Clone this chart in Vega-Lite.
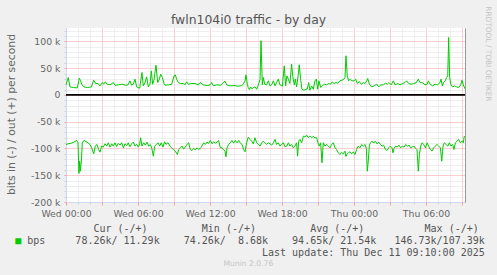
{
  "$schema": "https://vega.github.io/schema/vega-lite/v6.json",
  "width": 399,
  "height": 174,
  "autosize": "none",
  "padding": {"left": 66, "top": 28, "right": 32, "bottom": 73},
  "background": "#f0f0f0",
  "config": {
    "view": {"fill": "#ffffff", "stroke": null},
    "axis": {"labelFont": "DejaVu Sans", "titleFont": "DejaVu Sans", "titleFontWeight": "normal"}
  },
  "title": {"text": "Munin 2.0.76", "orient": "bottom", "anchor": "middle", "frame": "bounds", "font": "DejaVu Sans", "fontSize": 7.6, "fontWeight": "normal", "color": "#c4c4c4", "offset": 3},
  "datasets": {
    "out": [
      {"h":0,"v":18.8},{"h":0.19,"v":32.5},{"h":0.33,"v":15},{"h":0.61,"v":13.8},{"h":0.94,"v":13.1},{"h":1.11,"v":31.3},{"h":1.22,"v":26.3},{"h":1.33,"v":18.8},{"h":1.5,"v":15},{"h":1.78,"v":13.8},
      {"h":2.11,"v":15},{"h":2.31,"v":27.5},{"h":2.47,"v":21.3},{"h":2.67,"v":21.3},{"h":2.83,"v":16.9},{"h":3.03,"v":23.1},{"h":3.14,"v":20},{"h":3.28,"v":24.4},{"h":3.42,"v":20},{"h":3.67,"v":18.8},
      {"h":3.94,"v":23.1},{"h":4.08,"v":18.1},{"h":4.36,"v":18.8},{"h":4.67,"v":20},{"h":4.94,"v":18.1},{"h":5.17,"v":18.8},{"h":5.33,"v":26.3},{"h":5.47,"v":18.1},{"h":5.61,"v":20},{"h":5.75,"v":29.4},
      {"h":5.89,"v":15},{"h":6.14,"v":12.5},{"h":6.33,"v":41.9},{"h":6.44,"v":16.9},{"h":6.58,"v":23.1},{"h":6.72,"v":33.8},{"h":6.86,"v":15},{"h":7.0,"v":20},{"h":7.11,"v":45},{"h":7.22,"v":20},
      {"h":7.33,"v":27.5},{"h":7.5,"v":55.6},{"h":7.64,"v":23.1},{"h":7.78,"v":29.4},{"h":7.89,"v":38.8},{"h":8.03,"v":32.5},{"h":8.17,"v":21.3},{"h":8.25,"v":18.1},{"h":8.53,"v":18.8},{"h":8.81,"v":20},
      {"h":9.0,"v":35.6},{"h":9.11,"v":37.5},{"h":9.22,"v":29.4},{"h":9.36,"v":23.1},{"h":9.55,"v":21.3},{"h":9.78,"v":21.3},{"h":9.94,"v":19.4},{"h":10.05,"v":24.4},{"h":10.19,"v":20},{"h":10.47,"v":21.3},
      {"h":10.75,"v":21.3},{"h":11.03,"v":18.8},{"h":11.17,"v":23.1},{"h":11.44,"v":18.8},{"h":11.78,"v":17.5},{"h":12.0,"v":18.8},{"h":12.14,"v":23.1},{"h":12.28,"v":16.9},{"h":12.55,"v":18.8},{"h":12.89,"v":18.1},
      {"h":13.11,"v":23.1},{"h":13.25,"v":25.6},{"h":13.39,"v":18.8},{"h":13.67,"v":16.9},{"h":14.0,"v":17.5},{"h":14.36,"v":16.3},{"h":14.64,"v":17.5},{"h":14.78,"v":20},{"h":14.92,"v":26.3},{"h":15.0,"v":37.5},
      {"h":15.11,"v":20},{"h":15.19,"v":13.8},{"h":15.28,"v":10},{"h":15.39,"v":15},{"h":15.5,"v":11.3},{"h":15.61,"v":13.8},{"h":15.75,"v":15},{"h":15.89,"v":10.6},{"h":16.03,"v":18.8},{"h":16.17,"v":29.4},
      {"h":16.25,"v":101.3},{"h":16.36,"v":18.8},{"h":16.44,"v":32.5},{"h":16.56,"v":20},{"h":16.72,"v":18.8},{"h":16.86,"v":26.3},{"h":17.0,"v":16.9},{"h":17.14,"v":18.8},{"h":17.28,"v":26.3},{"h":17.42,"v":16.9},
      {"h":17.55,"v":23.1},{"h":17.69,"v":29.4},{"h":17.83,"v":18.8},{"h":18.03,"v":16.3},{"h":18.19,"v":54.4},{"h":18.3,"v":16.9},{"h":18.41,"v":35.6},{"h":18.53,"v":29.4},{"h":18.66,"v":21.3},{"h":18.8,"v":57.5},
      {"h":18.91,"v":32.5},{"h":19.03,"v":18.8},{"h":19.11,"v":29.4},{"h":19.22,"v":15},{"h":19.36,"v":38.8},{"h":19.44,"v":56.3},{"h":19.55,"v":29.4},{"h":19.66,"v":10.6},{"h":19.83,"v":8.8},{"h":20.0,"v":10.6},
      {"h":20.11,"v":11.3},{"h":20.22,"v":23.1},{"h":20.33,"v":8.8},{"h":20.47,"v":16.9},{"h":20.61,"v":10.6},{"h":20.75,"v":26.3},{"h":20.86,"v":29.4},{"h":20.97,"v":10.6},{"h":21.08,"v":26.3},{"h":21.22,"v":13.8},
      {"h":21.36,"v":16.9},{"h":21.53,"v":20},{"h":21.72,"v":18.8},{"h":21.89,"v":21.3},{"h":22.05,"v":20},{"h":22.19,"v":24.4},{"h":22.33,"v":21.3},{"h":22.5,"v":23.1},{"h":22.66,"v":21.9},{"h":22.83,"v":26.3},
      {"h":23.0,"v":27.5},{"h":23.16,"v":29.4},{"h":23.25,"v":32.5},{"h":23.33,"v":73.1},{"h":23.44,"v":35.6},{"h":23.55,"v":26.3},{"h":23.69,"v":29.4},{"h":23.83,"v":26.3},{"h":24.0,"v":26.3},{"h":24.14,"v":29.4},
      {"h":24.28,"v":21.3},{"h":24.44,"v":25},{"h":24.61,"v":20},{"h":24.78,"v":23.1},{"h":24.92,"v":21.3},{"h":25.06,"v":26.3},{"h":25.14,"v":30.6},{"h":25.28,"v":20},{"h":25.47,"v":15},{"h":25.67,"v":16.9},
      {"h":25.89,"v":20},{"h":26.06,"v":15},{"h":26.22,"v":18.8},{"h":26.45,"v":18.8},{"h":26.61,"v":21.9},{"h":26.78,"v":20},{"h":26.92,"v":23.1},{"h":27.09,"v":18.8},{"h":27.28,"v":26.3},{"h":27.42,"v":18.8},
      {"h":27.64,"v":21.3},{"h":27.84,"v":18.8},{"h":28.06,"v":21.3},{"h":28.25,"v":23.1},{"h":28.39,"v":26.3},{"h":28.56,"v":21.3},{"h":28.75,"v":20},{"h":28.95,"v":21.3},{"h":29.17,"v":22.5},{"h":29.36,"v":29.4},
      {"h":29.5,"v":23.1},{"h":29.72,"v":22.5},{"h":29.92,"v":18.8},{"h":30.09,"v":20},{"h":30.2,"v":26.3},{"h":30.34,"v":20},{"h":30.56,"v":16.9},{"h":30.75,"v":20},{"h":30.95,"v":18.8},{"h":31.17,"v":23.1},
      {"h":31.25,"v":29.4},{"h":31.36,"v":16.9},{"h":31.47,"v":23.1},{"h":31.61,"v":26.3},{"h":31.72,"v":32.5},{"h":31.81,"v":35.6},{"h":31.89,"v":107.4},{"h":31.97,"v":32.5},{"h":32.08,"v":18.8},{"h":32.22,"v":15},
      {"h":32.39,"v":16.9},{"h":32.55,"v":15},{"h":32.72,"v":13.8},{"h":32.89,"v":18.8},{"h":33.0,"v":27.5},{"h":33.11,"v":18.8},{"h":33.25,"v":11.3}
    ],
    "in": [
      {"h":0,"v":-92.5},{"h":0.19,"v":-91.3},{"h":0.47,"v":-90},{"h":0.67,"v":-88.1},{"h":0.89,"v":-85},{"h":1.0,"v":-89.4},{"h":1.08,"v":-146.7},{"h":1.14,"v":-123.8},{"h":1.19,"v":-142.5},{"h":1.28,"v":-123.8},
      {"h":1.36,"v":-89.4},{"h":1.5,"v":-85},{"h":1.67,"v":-87.5},{"h":1.83,"v":-89.4},{"h":2.0,"v":-92.5},{"h":2.14,"v":-98.8},{"h":2.31,"v":-110},{"h":2.44,"v":-95.6},{"h":2.58,"v":-92.5},{"h":2.72,"v":-101.9},
      {"h":2.83,"v":-106.9},{"h":2.97,"v":-95.6},{"h":3.11,"v":-97.5},{"h":3.25,"v":-91.3},{"h":3.39,"v":-95.6},{"h":3.53,"v":-89.4},{"h":3.67,"v":-97.5},{"h":3.81,"v":-91.3},{"h":3.94,"v":-95.6},{"h":4.08,"v":-89.4},
      {"h":4.22,"v":-96.3},{"h":4.36,"v":-90.6},{"h":4.5,"v":-93.8},{"h":4.64,"v":-89.4},{"h":4.78,"v":-98.8},{"h":4.92,"v":-91.3},{"h":5.06,"v":-94.4},{"h":5.19,"v":-89.4},{"h":5.33,"v":-96.9},{"h":5.47,"v":-91.3},
      {"h":5.61,"v":-88.1},{"h":5.75,"v":-95.6},{"h":5.89,"v":-92.5},{"h":6.03,"v":-97.5},{"h":6.14,"v":-91.3},{"h":6.22,"v":-80},{"h":6.33,"v":-95.6},{"h":6.47,"v":-89.4},{"h":6.61,"v":-93.8},{"h":6.75,"v":-88.1},
      {"h":6.89,"v":-95.6},{"h":7.03,"v":-92.5},{"h":7.14,"v":-98.8},{"h":7.28,"v":-114.4},{"h":7.39,"v":-95.6},{"h":7.53,"v":-92.5},{"h":7.67,"v":-89.4},{"h":7.81,"v":-95.6},{"h":7.94,"v":-89.4},{"h":8.08,"v":-97.5},
      {"h":8.22,"v":-87.5},{"h":8.33,"v":-92.5},{"h":8.5,"v":-89.4},{"h":8.67,"v":-95.6},{"h":8.81,"v":-98.8},{"h":8.94,"v":-101.9},{"h":9.11,"v":-105},{"h":9.28,"v":-111.3},{"h":9.39,"v":-101.9},{"h":9.53,"v":-98.8},
      {"h":9.67,"v":-95.6},{"h":9.8,"v":-101.3},{"h":9.94,"v":-97.5},{"h":10.08,"v":-92.5},{"h":10.22,"v":-89.4},{"h":10.36,"v":-101.9},{"h":10.5,"v":-103.8},{"h":10.64,"v":-100},{"h":10.78,"v":-102.5},{"h":10.92,"v":-98.8},
      {"h":11.05,"v":-101.9},{"h":11.19,"v":-100},{"h":11.33,"v":-95.6},{"h":11.47,"v":-89.4},{"h":11.61,"v":-92.5},{"h":11.75,"v":-88.1},{"h":11.89,"v":-90.6},{"h":12.03,"v":-85},{"h":12.17,"v":-91.3},{"h":12.3,"v":-87.5},
      {"h":12.44,"v":-90},{"h":12.58,"v":-88.8},{"h":12.72,"v":-85},{"h":12.86,"v":-98.8},{"h":13.0,"v":-98.8},{"h":13.14,"v":-102.5},{"h":13.25,"v":-105},{"h":13.33,"v":-115.6},{"h":13.42,"v":-98.8},{"h":13.55,"v":-92.5},
      {"h":13.69,"v":-89.4},{"h":13.83,"v":-85},{"h":13.97,"v":-90},{"h":14.11,"v":-85},{"h":14.25,"v":-89.4},{"h":14.39,"v":-85},{"h":14.53,"v":-90},{"h":14.67,"v":-92.5},{"h":14.8,"v":-101.9},{"h":14.92,"v":-106.3},
      {"h":15.05,"v":-89.4},{"h":15.19,"v":-78.8},{"h":15.33,"v":-83.1},{"h":15.47,"v":-86.3},{"h":15.61,"v":-91.3},{"h":15.75,"v":-80},{"h":15.89,"v":-89.4},{"h":16.03,"v":-92.5},{"h":16.17,"v":-95.6},{"h":16.31,"v":-89.4},
      {"h":16.44,"v":-86.3},{"h":16.58,"v":-89.4},{"h":16.72,"v":-92.5},{"h":16.86,"v":-89.4},{"h":17.0,"v":-91.3},{"h":17.14,"v":-93.8},{"h":17.28,"v":-89.4},{"h":17.42,"v":-83.1},{"h":17.55,"v":-92.5},{"h":17.69,"v":-89.4},
      {"h":17.83,"v":-95.6},{"h":17.97,"v":-92.5},{"h":18.11,"v":-89.4},{"h":18.25,"v":-96.9},{"h":18.39,"v":-95.6},{"h":18.53,"v":-89.4},{"h":18.66,"v":-95.6},{"h":18.8,"v":-92.5},{"h":18.94,"v":-98.8},{"h":19.08,"v":-95.6},
      {"h":19.22,"v":-89.4},{"h":19.3,"v":-114.4},{"h":19.39,"v":-86.3},{"h":19.5,"v":-83.1},{"h":19.64,"v":-89.4},{"h":19.78,"v":-76.9},{"h":19.91,"v":-78.8},{"h":20.05,"v":-75},{"h":20.19,"v":-80},{"h":20.33,"v":-76.9},
      {"h":20.47,"v":-80},{"h":20.61,"v":-77.5},{"h":20.75,"v":-80},{"h":20.89,"v":-80},{"h":21.0,"v":-89.4},{"h":21.11,"v":-95.6},{"h":21.22,"v":-89.4},{"h":21.33,"v":-126.9},{"h":21.44,"v":-89.4},{"h":21.58,"v":-95.6},
      {"h":21.72,"v":-92.5},{"h":21.86,"v":-95.6},{"h":22.0,"v":-98.8},{"h":22.14,"v":-92.5},{"h":22.28,"v":-89.4},{"h":22.41,"v":-98.8},{"h":22.55,"v":-101.9},{"h":22.69,"v":-108.1},{"h":22.83,"v":-111.3},{"h":22.97,"v":-107.5},
      {"h":23.11,"v":-110},{"h":23.25,"v":-105},{"h":23.33,"v":-115},{"h":23.44,"v":-110},{"h":23.55,"v":-107.5},{"h":23.66,"v":-106.3},{"h":23.8,"v":-110},{"h":23.94,"v":-106.3},{"h":24.08,"v":-111.3},{"h":24.22,"v":-101.9},
      {"h":24.36,"v":-95.6},{"h":24.5,"v":-98.8},{"h":24.64,"v":-92.5},{"h":24.78,"v":-95.6},{"h":24.92,"v":-92.5},{"h":25.03,"v":-100},{"h":25.11,"v":-142.5},{"h":25.19,"v":-123.8},{"h":25.28,"v":-93.8},{"h":25.39,"v":-89.4},
      {"h":25.5,"v":-86.3},{"h":25.64,"v":-90},{"h":25.78,"v":-86.3},{"h":25.92,"v":-91.3},{"h":26.06,"v":-88.1},{"h":26.2,"v":-92.5},{"h":26.34,"v":-95.6},{"h":26.47,"v":-93.8},{"h":26.61,"v":-101.9},{"h":26.75,"v":-103.8},
      {"h":26.89,"v":-98.8},{"h":27.03,"v":-95.6},{"h":27.17,"v":-98.8},{"h":27.25,"v":-108.1},{"h":27.34,"v":-100},{"h":27.47,"v":-95.6},{"h":27.61,"v":-97.5},{"h":27.75,"v":-93.8},{"h":27.89,"v":-98.8},{"h":28.03,"v":-95.6},
      {"h":28.17,"v":-97.5},{"h":28.31,"v":-92.5},{"h":28.45,"v":-95.6},{"h":28.59,"v":-93.8},{"h":28.72,"v":-98.8},{"h":28.86,"v":-96.9},{"h":29.0,"v":-95.6},{"h":29.14,"v":-100},{"h":29.25,"v":-102.5},{"h":29.36,"v":-142.5},
      {"h":29.45,"v":-111.3},{"h":29.56,"v":-95.6},{"h":29.67,"v":-89.4},{"h":29.81,"v":-92.5},{"h":29.95,"v":-98.8},{"h":30.09,"v":-89.4},{"h":30.22,"v":-95.6},{"h":30.36,"v":-101.9},{"h":30.5,"v":-105},{"h":30.64,"v":-98.8},
      {"h":30.78,"v":-95.6},{"h":30.92,"v":-92.5},{"h":31.06,"v":-95.6},{"h":31.2,"v":-98.8},{"h":31.31,"v":-123.8},{"h":31.42,"v":-95.6},{"h":31.53,"v":-89.4},{"h":31.67,"v":-92.5},{"h":31.81,"v":-95.6},{"h":31.95,"v":-89.4},
      {"h":32.08,"v":-95.6},{"h":32.22,"v":-92.5},{"h":32.33,"v":-101.9},{"h":32.45,"v":-89.4},{"h":32.59,"v":-86.3},{"h":32.72,"v":-83.1},{"h":32.86,"v":-89.4},{"h":33.0,"v":-86.3},{"h":33.11,"v":-89.4},{"h":33.19,"v":-76.9},
      {"h":33.25,"v":-78.3}
    ]
  },
  "resolve": {"axis": {"x": "independent", "y": "independent"}},
  "layer": [
    {
      "data": {"name": "out"},
      "mark": {"type": "line", "color": "#00cc00", "strokeWidth": 1, "clip": true},
      "encoding": {
        "x": {"field": "h", "type": "quantitative", "scale": {"domain": [0, 33.25], "nice": false, "zero": false},
          "axis": {"orient": "bottom", "values": [1,2,4,5,7,8,10,11,13,14,16,17,19,20,22,23,25,26,28,29,31,32],
            "grid": true, "gridColor": "#dfdfdf", "gridDash": [1,1], "ticks": true, "tickColor": "#cfcfcf", "tickSize": 2,
            "labels": false, "domain": true, "domainColor": "#cfd6f8",
            "title": "■", "titleColor": "#00cc00", "titleFont": "DejaVu Sans Mono", "titleFontSize": 10, "titleAlign": "left", "titleBaseline": "top", "titleAngle": 0, "titleX": -51.3, "titleY": 33.4}},
        "y": {"field": "v", "type": "quantitative", "scale": {"domain": [-200, 125], "nice": false},
          "axis": {"orient": "left", "values": [-190,-180,-170,-160,-140,-130,-120,-110,-90,-80,-70,-60,-40,-30,-20,-10,10,20,30,40,60,70,80,90,110,120],
            "grid": true, "gridColor": "#dfdfdf", "gridDash": [1,1], "ticks": true, "tickColor": "#cfcfcf", "tickSize": 2,
            "labels": false, "domain": true, "domainColor": "#cfd6f8", "title": null}}
      }
    },
    {
      "data": {"name": "in"},
      "mark": {"type": "line", "color": "#00cc00", "strokeWidth": 1, "clip": true},
      "encoding": {
        "x": {"field": "h", "type": "quantitative",
          "axis": {"orient": "bottom", "values": [0,3,6,9,12,15,18,21,24,27,30,33],
            "grid": true, "gridColor": "#f79f9f", "gridDash": [1,1], "ticks": true, "tickColor": "#f79f9f", "tickSize": 3,
            "labels": true, "labelExpr": "datum.value % 6 != 0 ? '' : (datum.value < 24 ? 'Wed ' : 'Thu ') + (datum.value % 24 < 10 ? '0' : '') + (datum.value % 24) + ':00'",
            "labelFontSize": 9.33, "labelColor": "#666666", "labelPadding": 4, "labelOverlap": false, "labelFlush": false, "domain": false,
            "title": [
              "\u200b\u00a0\u00a0\u00a0\u00a0\u00a0\u00a0\u00a0\u00a0\u00a0\u00a0\u00a0Cur\u00a0(-/+)\u00a0\u00a0\u00a0\u00a0\u00a0\u00a0\u00a0\u00a0\u00a0Min\u00a0(-/+)\u00a0\u00a0\u00a0\u00a0\u00a0\u00a0\u00a0\u00a0\u00a0Avg\u00a0(-/+)\u00a0\u00a0\u00a0\u00a0\u00a0\u00a0\u00a0\u00a0\u00a0\u00a0Max\u00a0(-/+)",
              "bps\u00a0\u00a0\u00a0\u00a0\u00a078.26k/\u00a011.29k\u00a0\u00a0\u00a0\u00a074.26k/\u00a0\u00a08.68k\u00a0\u00a0\u00a0\u00a094.65k/\u00a021.54k\u00a0\u00a0\u00a0146.73k/107.39k",
              "\u200b\u00a0\u00a0\u00a0\u00a0\u00a0\u00a0\u00a0\u00a0\u00a0\u00a0\u00a0\u00a0\u00a0\u00a0\u00a0\u00a0\u00a0\u00a0\u00a0\u00a0\u00a0\u00a0\u00a0\u00a0\u00a0\u00a0\u00a0\u00a0\u00a0\u00a0\u00a0\u00a0\u00a0\u00a0\u00a0\u00a0\u00a0\u00a0\u00a0Last\u00a0update:\u00a0Thu\u00a0Dec\u00a011\u00a009:10:00\u00a02025"
            ],
            "titleFont": "DejaVu Sans Mono", "titleFontSize": 10, "titleColor": "#555555", "titleAlign": "left", "titleBaseline": "top", "titleAngle": 0, "titleLineHeight": 12, "titleX": -39.3, "titleY": 21.4}},
        "y": {"field": "v", "type": "quantitative",
          "axis": {"orient": "left", "values": [-200,-150,-100,-50,0,50,100],
            "grid": true, "gridColor": "#f79f9f", "gridDash": [1,1], "ticks": true, "tickColor": "#f79f9f", "tickSize": 2,
            "labels": true, "labelExpr": "datum.value == 0 ? '0' : datum.value + ' k'", "labelFontSize": 9.33, "labelColor": "#666666", "labelPadding": 4, "labelOverlap": false, "labelFlush": false,
            "domain": false,
            "title": "bits in (-) / out (+) per second", "titleFontSize": 10.8, "titleColor": "#666666", "titleAngle": -90, "titleAlign": "center", "titleBaseline": "bottom", "titleX": -50, "titleY": 86}}
      }
    },
    {
      "data": {"values": [{}]},
      "mark": {"type": "rule", "color": "#000000", "strokeWidth": 1.6},
      "encoding": {
        "x": {"datum": 0, "type": "quantitative",
          "axis": {"orient": "top", "domain": false, "ticks": false, "labels": false, "grid": false,
            "title": "fwln104i0 traffic - by day", "titleFontSize": 12.4, "titleColor": "#555555", "titleAlign": "center", "titleBaseline": "top", "titleAngle": 0, "titleX": 182, "titleY": -15}},
        "x2": {"datum": 33.25},
        "y": {"datum": 0, "type": "quantitative",
          "axis": {"orient": "right", "domain": true, "domainColor": "#999999", "ticks": false, "labels": false, "grid": false,
            "title": "RRDTOOL / TOBI OETIKER", "titleFontSize": 7.4, "titleColor": "#c4c4c4", "titleAngle": 90, "titleAlign": "center", "titleBaseline": "middle", "titleX": 22.8, "titleY": 25.4}}
      }
    }
  ]
}
